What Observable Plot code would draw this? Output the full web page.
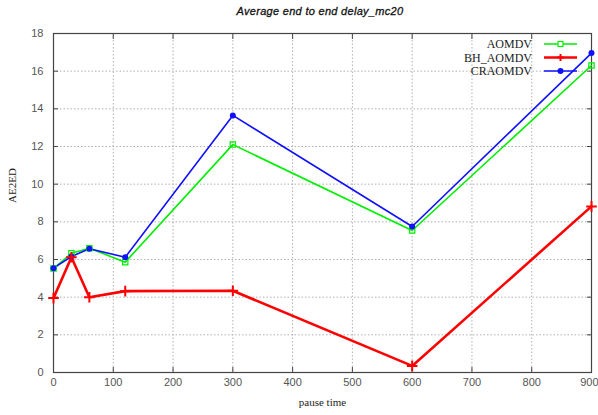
<!DOCTYPE html>
<html><head><meta charset="utf-8">
<script src="https://cdn.jsdelivr.net/npm/d3@7"></script>
<script src="https://cdn.jsdelivr.net/npm/@observablehq/plot@0.6"></script>
<style>
body{margin:0;background:#fff;}
#wrap{position:relative;width:598px;height:415px;overflow:hidden;}
#title{position:absolute;top:5px;left:0;width:640px;text-align:center;font:italic 11px "Liberation Sans",Arial,sans-serif;color:#111;-webkit-text-stroke:0.3px #111;letter-spacing:0.3px;}
#chart{position:absolute;top:25px;left:0;}
</style></head>
<body><div id="wrap"><div id="title">Average end to end delay_mc20</div><div id="chart"></div></div>
<script>
const pauseTime = [0, 30, 60, 120, 300, 600, 900];
const aomdv   = [5.52, 6.33, 6.6, 5.86, 12.1, 7.54, 16.3];
const bhAomdv = [3.95, 6.12, 4.0, 4.32, 4.34, 0.35, 8.82];
const craomdv = [5.54, 6.16, 6.57, 6.12, 13.65, 7.75, 16.96];
const seriesNames = ["AOMDV", "BH_AOMDV", "CRAOMDV"];
const seriesColors = ["#00ee00", "#ff0000", "#1010ff"];
const xTicks = [0,100,200,300,400,500,600,700,800,900];
const yTicks = [0,2,4,6,8,10,12,14,16,18];

const allSeries = [aomdv, bhAomdv, craomdv];
const data = [];
allSeries.forEach((vals, i) => vals.forEach((v, j) => data.push({series: seriesNames[i], x: pauseTime[j], y: v})));
const bySeries = n => data.filter(d => d.series === n);

const tickFont = {fontFamily: "Liberation Sans, Arial, sans-serif", fontSize: 11, fill: "#555"};
const plot = Plot.plot({
  width: 598, height: 390,
  marginLeft: 53, marginRight: 7, marginTop: 8, marginBottom: 43,
  style: {fontFamily: "Liberation Sans, sans-serif", fontSize: "11px", background: "#fff"},
  x: {domain: [0, 900]},
  y: {domain: [0, 18]},
  marks: [
    Plot.gridX(xTicks, {stroke: "#b0b0b0", strokeOpacity: 1, strokeDasharray: "1.5,2"}),
    Plot.gridY(yTicks, {stroke: "#b0b0b0", strokeOpacity: 1, strokeDasharray: "1.5,2"}),
    Plot.axisX(xTicks, {anchor: "bottom", tickSize: -5, tickFormat: () => "", stroke: "#444", label: null}),
    Plot.axisX(xTicks, {anchor: "top", tickSize: -5, tickFormat: () => "", stroke: "#444", label: null}),
    Plot.axisY(yTicks, {anchor: "left", tickSize: -5, tickFormat: () => "", stroke: "#444", label: null}),
    Plot.axisY(yTicks, {anchor: "right", tickSize: -5, tickFormat: () => "", stroke: "#444", label: null}),
    Plot.text(xTicks.slice(0, -1), {x: d => d, frameAnchor: "bottom", dy: 13, ...tickFont}),
    Plot.text(xTicks.slice(-1), {x: d => d, frameAnchor: "bottom", dy: 13, textAnchor: "end", dx: 7, ...tickFont}),
    Plot.axisY(yTicks, {anchor: "left", tickSize: 0, tickPadding: 10, ...tickFont, label: null}),
    Plot.frame({stroke: "#444", strokeWidth: 1.2}),
    Plot.line(bySeries("AOMDV"), {x: "x", y: "y", stroke: seriesColors[0], strokeWidth: 1.6}),
    Plot.line(bySeries("CRAOMDV"), {x: "x", y: "y", stroke: seriesColors[2], strokeWidth: 1.6}),
    Plot.line(bySeries("BH_AOMDV"), {x: "x", y: "y", stroke: seriesColors[1], strokeWidth: 2.6}),
    Plot.dot(bySeries("AOMDV"), {x: "x", y: "y", symbol: "square", r: 3, stroke: seriesColors[0], fill: "none", strokeWidth: 1.2}),
    Plot.dot(bySeries("CRAOMDV"), {x: "x", y: "y", symbol: "circle", r: 3, fill: seriesColors[2], stroke: "none"}),
    Plot.dot(bySeries("BH_AOMDV"), {x: "x", y: "y", symbol: "plus", r: 3.5, stroke: seriesColors[1], strokeWidth: 2}),
    Plot.text(["pause time"], {frameAnchor: "bottom", dy: 33, fontFamily: "Liberation Serif, serif", fontSize: 11, fill: "#222"}),
    Plot.text(["AE2ED"], {frameAnchor: "left", dx: -41, rotate: -90, fontFamily: "Liberation Serif, serif", fontSize: 11, fill: "#222"})
  ]
});
document.getElementById("chart").append(plot);

// legend (top-right, inside plot area)
const svg = d3.select(plot);
const leg = svg.append("g");
seriesNames.forEach((name, i) => {
  const y = 19 + i * 13.5;
  leg.append("text").attr("x", 532).attr("y", y).attr("dy", "0.35em").attr("text-anchor", "end")
    .attr("font-family", "Liberation Serif, serif").attr("font-size", 12).attr("fill", "#222").text(name);
  leg.append("line").attr("x1", 544).attr("x2", 577).attr("y1", y).attr("y2", y)
    .attr("stroke", seriesColors[i]).attr("stroke-width", i === 1 ? 2.6 : 1.6);
  if (i === 0) leg.append("rect").attr("x", 558).attr("y", y - 2.5).attr("width", 5).attr("height", 5).attr("fill", "#fff").attr("stroke", seriesColors[0]).attr("stroke-width", 1.2);
  if (i === 1) leg.append("path").attr("d", `M557,${y}h7M560.5,${y-3.5}v7`).attr("stroke", seriesColors[1]).attr("stroke-width", 2);
  if (i === 2) leg.append("circle").attr("cx", 560.5).attr("cy", y).attr("r", 3).attr("fill", seriesColors[2]);
});
</script></body></html>
